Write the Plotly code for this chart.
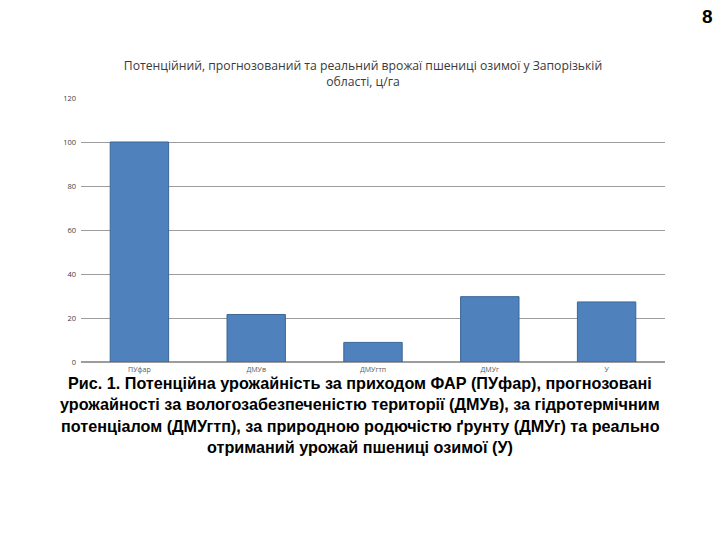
import plotly.graph_objects as go

categories = ["ПУфар", "ДМУв", "ДМУгтп", "ДМУг", "У"]
values = [100, 21.6, 8.9, 29.7, 27.3]
y_ticks = [0, 20, 40, 60, 80, 100, 120]

title_text = "Потенційний, прогнозований та реальний врожаї пшениці озимої у Запорізькій<br>області, ц/га"
caption_lines = [
    "Рис. 1. Потенційна урожайність за приходом ФАР (ПУфар), прогнозовані",
    "урожайності за вологозабезпеченістю території (ДМУв), за гідротермічним",
    "потенціалом (ДМУгтп), за природною родючістю ґрунту (ДМУг) та реально",
    "отриманий урожай пшениці озимої (У)",
]

W, H = 720, 540
L, R, T, B = 81, 55, 98, 178
PW, PH = W - L - R, H - T - B


def px_x(px):
    return (px - L) / PW


def px_y(py):
    return (H - B - py) / PH


fig = go.Figure()
fig.add_trace(go.Bar(
    x=categories, y=values,
    marker=dict(color="#4F81BD", line=dict(color="#3B6698", width=1)),
    hoverinfo="x+y",
))

fig.update_layout(
    width=W, height=H,
    margin=dict(l=L, r=R, t=T, b=B),
    paper_bgcolor="white", plot_bgcolor="white",
    bargap=0.5,
    showlegend=False,
    font=dict(family="Open Sans, Liberation Sans, sans-serif"),
    title=dict(
        text=title_text,
        x=363 / W, xanchor="center", xref="container",
        y=1 - 70 / H, yref="container", yanchor="middle",
        font=dict(size=12.2, color="#3A3A3A", family="Open Sans, sans-serif"),
    ),
    xaxis=dict(
        showgrid=False, showline=False, zeroline=False,
        tickfont=dict(size=7, color="#595959"),
        ticks="", ticklabelstandoff=2,
    ),
    yaxis=dict(
        range=[0, 120], tickvals=y_ticks,
        showgrid=True, gridcolor="#9C9C9C", gridwidth=1,
        zeroline=True, zerolinecolor="#9C9C9C",
        showline=False,
        tickfont=dict(size=7.5, color="#404040"),
        ticklabelstandoff=4,
    ),
)

annotations = []
for i, line in enumerate(caption_lines):
    annotations.append(dict(
        text="<b>" + line + "</b>",
        x=px_x(360), xref="paper", xanchor="center",
        y=px_y(383 + 21.3 * i), yref="paper", yanchor="middle",
        showarrow=False,
        font=dict(size=16.2, color="black", family="Liberation Sans, Arial, sans-serif"),
    ))
annotations.append(dict(
    text="<b>8</b>", x=px_x(707), xref="paper", xanchor="center",
    y=px_y(17), yref="paper", yanchor="middle",
    showarrow=False, font=dict(size=19, color="black", family="Liberation Sans, Arial, sans-serif"),
))
fig.update_layout(annotations=annotations)
fig.write_html("out.html")
